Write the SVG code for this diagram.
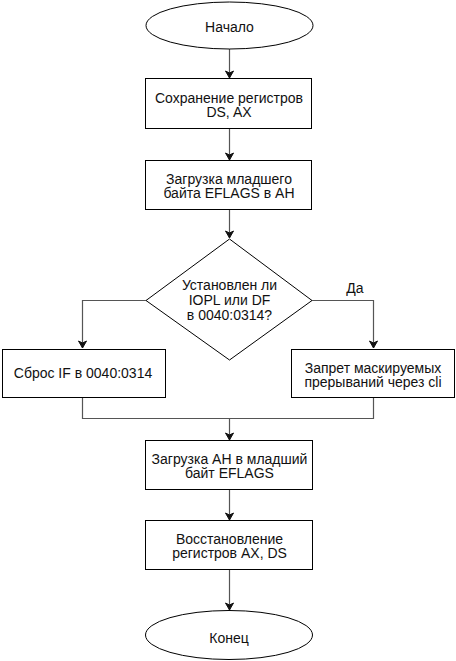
<svg xmlns="http://www.w3.org/2000/svg" width="456" height="661" viewBox="0 0 456 661">
<defs>
<marker id="arr" markerWidth="10" markerHeight="10" refX="8" refY="5" orient="auto" markerUnits="userSpaceOnUse">
<path d="M1,1 L8,5 L1,9 L3,5 Z" fill="#111" stroke="#111" stroke-width="1"/>
</marker>
</defs>
<style>
.n{fill:#fff;stroke:#000;stroke-width:1}
.c{fill:none;stroke:#555;stroke-width:1.2}
text{font-family:"Liberation Sans",Arial,Helvetica,sans-serif;font-size:14px;fill:#111;text-anchor:middle}
</style>
<rect width="456" height="661" fill="#fff"/>
<g id="connectors">
<path class="c" d="M229.5,49 V78" marker-end="url(#arr)"/>
<path class="c" d="M229.5,129 V160" marker-end="url(#arr)"/>
<path class="c" d="M229.5,210 V238" marker-end="url(#arr)"/>
<path class="c" d="M146,300.5 H82.5 V348" marker-end="url(#arr)"/>
<path class="c" d="M312,300.5 H373.5 V348" marker-end="url(#arr)"/>
<path class="c" d="M82.5,398 V418.5 H373.5 V398"/>
<path class="c" d="M229.5,418.5 V440" marker-end="url(#arr)"/>
<path class="c" d="M229.5,490 V520" marker-end="url(#arr)"/>
<path class="c" d="M229.5,570 V610" marker-end="url(#arr)"/>
<text x="355" y="293">Да</text>
</g>
<g id="start">
<ellipse class="n" cx="229.5" cy="25.5" rx="83.5" ry="23.5"/>
<text x="229.5" y="32">Начало</text>
</g>
<g id="save">
<rect class="n" x="145.5" y="78.5" width="166" height="50"/>
<text x="229" y="102.5">Сохранение регистров</text>
<text x="229" y="117">DS, AX</text>
</g>
<g id="load">
<rect class="n" x="145.5" y="160.5" width="166" height="49"/>
<text x="229" y="183.5">Загрузка младшего</text>
<text x="229" y="198">байта EFLAGS в AH</text>
</g>
<g id="decision">
<polygon class="n" points="229.5,239 312,300.5 229.5,360 146,300.5"/>
<text x="229.5" y="290">Установлен ли</text>
<text x="229.5" y="305">IOPL или DF</text>
<text x="229.5" y="319.5">в 0040:0314?</text>
</g>
<g id="reset">
<rect class="n" x="2.5" y="349.5" width="163" height="48"/>
<text x="83" y="378">Сброс IF в 0040:0314</text>
</g>
<g id="cli">
<rect class="n" x="291.5" y="349.5" width="163" height="48"/>
<text x="373" y="372.5">Запрет маскируемых</text>
<text x="373" y="387">прерываний через cli</text>
</g>
<g id="store">
<rect class="n" x="145.5" y="440.5" width="167" height="49"/>
<text x="229.5" y="463.5">Загрузка AH в младший</text>
<text x="229.5" y="478">байт EFLAGS</text>
</g>
<g id="restore">
<rect class="n" x="145.5" y="520.5" width="167" height="49"/>
<text x="229.5" y="543.5">Восстановление</text>
<text x="229.5" y="558">регистров AX, DS</text>
</g>
<g id="end">
<ellipse class="n" cx="229" cy="635" rx="83.5" ry="24.5"/>
<text x="229" y="642.5">Конец</text>
</g>
</svg>
